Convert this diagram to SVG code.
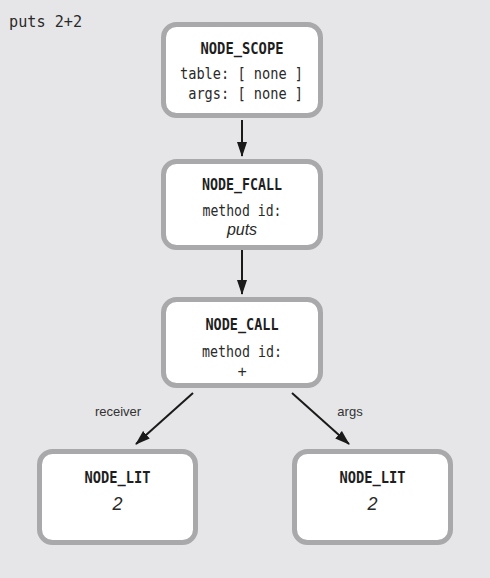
<svg xmlns="http://www.w3.org/2000/svg" width="490" height="578" viewBox="0 0 490 578">
  <style>
    .box { fill: #ffffff; stroke: #a9a9ab; stroke-width: 5; }
    .title { font-family: "DejaVu Sans Mono", "Liberation Mono", monospace; font-weight: bold; font-size: 15.5px; fill: #1e1e1e; text-anchor: middle; }
    .mono { font-family: "DejaVu Sans Mono", "Liberation Mono", monospace; font-size: 16px; fill: #2a2a2a; }
    .val { font-family: "Liberation Sans", Arial, sans-serif; font-style: italic; font-size: 16px; fill: #2a2a2a; text-anchor: middle; }
    .num { font-size: 18px; }
    .lbl { font-family: "Liberation Sans", Arial, sans-serif; font-size: 13px; fill: #333333; text-anchor: middle; }
    .edge { stroke: #1a1a1a; stroke-width: 2; fill: none; marker-end: url(#arrow); }
  </style>
  <defs>
    <marker id="arrow" viewBox="0 0 15 10" refX="14" refY="5" markerWidth="15" markerHeight="10" markerUnits="userSpaceOnUse" orient="auto">
      <path d="M0,0 L15,5 L0,10 Z" fill="#1a1a1a"/>
    </marker>
  </defs>
  <rect width="490" height="578" fill="#e6e6e8"/>

  <text class="mono" x="9" y="27" textLength="73" lengthAdjust="spacingAndGlyphs">puts 2+2</text>

  <g id="connectors">
    <line class="edge" x1="242" y1="120" x2="242" y2="156"/>
    <line class="edge" x1="242" y1="250" x2="242" y2="294"/>
    <line class="edge" x1="193" y1="393" x2="136" y2="444"/>
    <line class="edge" x1="292" y1="393" x2="349" y2="444"/>
    <text class="lbl" x="118" y="416">receiver</text>
    <text class="lbl" x="350" y="416">args</text>
  </g>

  <g id="node_scope">
    <rect class="box" x="163.5" y="24.5" width="157" height="91" rx="13"/>
    <text class="title" x="242" y="54" textLength="83" lengthAdjust="spacingAndGlyphs">NODE_SCOPE</text>
    <text class="mono" x="180" y="79" textLength="123" lengthAdjust="spacingAndGlyphs">table: [ none ]</text>
    <text class="mono" x="188.2" y="99" textLength="114.8" lengthAdjust="spacingAndGlyphs">args: [ none ]</text>
  </g>

  <g id="node_fcall">
    <rect class="box" x="163.5" y="161.5" width="157" height="86" rx="13"/>
    <text class="title" x="242" y="190" textLength="80" lengthAdjust="spacingAndGlyphs">NODE_FCALL</text>
    <text class="mono" x="242" y="216" text-anchor="middle" textLength="79" lengthAdjust="spacingAndGlyphs">method id:</text>
    <text class="val" x="242" y="235">puts</text>
  </g>

  <g id="node_call">
    <rect class="box" x="163.5" y="299.5" width="157" height="86" rx="13"/>
    <text class="title" x="242" y="330" textLength="73" lengthAdjust="spacingAndGlyphs">NODE_CALL</text>
    <text class="mono" x="242" y="357" text-anchor="middle" textLength="80" lengthAdjust="spacingAndGlyphs">method id:</text>
    <text class="val" x="242" y="377">+</text>
  </g>

  <g id="node_lit_receiver">
    <rect class="box" x="39.5" y="451.5" width="156" height="91" rx="13"/>
    <text class="title" x="117.5" y="483" textLength="66" lengthAdjust="spacingAndGlyphs">NODE_LIT</text>
    <text class="val num" x="117.5" y="510">2</text>
  </g>

  <g id="node_lit_args">
    <rect class="box" x="294.5" y="451.5" width="156" height="91" rx="13"/>
    <text class="title" x="372.5" y="483" textLength="66" lengthAdjust="spacingAndGlyphs">NODE_LIT</text>
    <text class="val num" x="372.5" y="510">2</text>
  </g>
</svg>
